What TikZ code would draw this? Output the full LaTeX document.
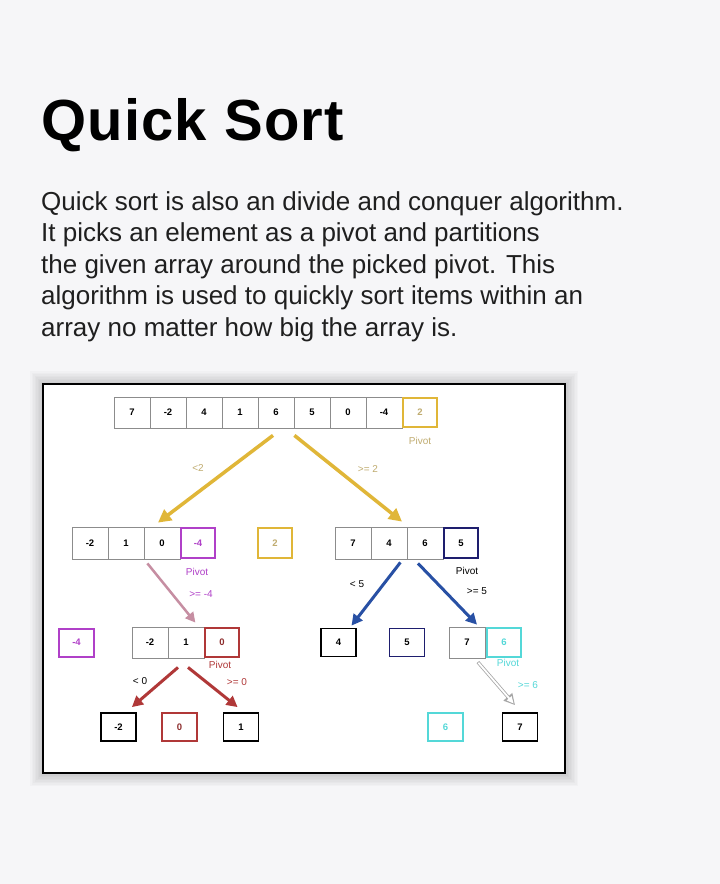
\documentclass[tikz,border=0pt]{standalone}
\usepackage{fontspec}
\setmainfont{Liberation Sans}
\usetikzlibrary{arrows.meta,positioning,calc}
\definecolor{bgcol}{RGB}{246,246,248}
\definecolor{yelcol}{RGB}{224,182,56}
\definecolor{yeltxt}{RGB}{192,172,112}
\definecolor{purcol}{RGB}{176,64,200}
\definecolor{navcol}{RGB}{30,30,110}
\definecolor{blucol}{RGB}{40,80,164}
\definecolor{redcol}{RGB}{176,56,56}
\definecolor{cyacol}{RGB}{84,216,216}
\definecolor{pnkcol}{RGB}{198,142,162}
\tikzset{
  % plain array cell
  cell/.style={rectangle, draw=black!45, line width=0.8pt, fill=white, minimum width=36pt, minimum height=31pt,
               inner sep=0pt, font=\fontsize{9.5}{10}\selectfont\bfseries},
  % pivot cell of an array
  pivcell/.style={cell, draw=#1, line width=2.2pt, minimum width=34pt, minimum height=29pt},
  pivcell/.default={black},
  % single element box
  leaf/.style={rectangle, draw=#1, line width=1.8pt, fill=white, minimum width=35pt, minimum height=28pt,
               inner sep=0pt, font=\fontsize{9.5}{10}\selectfont\bfseries},
  leaf/.default={black},
  % partition arrow
  sortarrow/.style={draw=#1, line width=3pt, -{Triangle[length=11pt,width=11pt]}},
  sortarrow/.default={black},
  % small text label
  lbl/.style={font=\fontsize{10}{12}\selectfont, text=#1, inner sep=0pt},
  lbl/.default={black},
}
\begin{document}
\begin{tikzpicture}[x=1pt, y=-1pt]
  \useasboundingbox (0,0) rectangle (720,884);
  \fill[bgcol] (0,0) rectangle (720,884);
  % heading and text
  \node[anchor=base west, inner sep=0pt, font=\fontsize{58}{60}\selectfont\bfseries\addfontfeature{LetterSpace=2}]
    (title) at (41,140) {Quick Sort};
  \foreach \txt [count=\k] in {Quick sort is also an divide and conquer algorithm.,
      It picks an element as a pivot and partitions,
      the given array around the picked pivot. This,
      algorithm is used to quickly sort items within an,
      array no matter how big the array is.}
    \node[anchor=base west, inner sep=0pt, font=\fontsize{26}{31}\selectfont, text=black!88]
      (body\k) at ({41},{210+31.5*(\k-1)}) {\txt};
  % framed panel
  \foreach \w in {26,23,...,2}
    \draw[black, opacity=0.018, line width=\w pt] (43,384) rectangle (565,773);
  \fill[white] (43,384) rectangle (565,773);
  \draw[black, line width=2pt] (43,384) rectangle (565,773);

  % level 0
  \foreach \v [count=\i] in {7,-2,4,1,6,5,0,-4}
    \node[cell] (t\i) at ({132+36*(\i-1)},412.5) {\v};
  \node[pivcell=yelcol, text=yeltxt] (tp) at (420,412.5) {2};
  \node[lbl=yeltxt] (tpl) at (420,441) {Pivot};
  \node[lbl=yeltxt] (lt2) at (198,468) {<2};
  \node[lbl=yeltxt] (ge2) at (368,469) {>= 2};

  % level 1
  \foreach \v [count=\i] in {-2,1,0}
    \node[cell, minimum height=32pt] (l\i) at ({90+36*(\i-1)},543) {\v};
  \node[pivcell=purcol, text=purcol, minimum height=30pt] (lp) at (198,543) {-4};
  \node[lbl=purcol] (lpl) at (197,572) {Pivot};
  \node[lbl=purcol] (gem4) at (201,594) {>= -4};
  \node[pivcell=yelcol, text=yeltxt, minimum height=30pt] (mid2) at (275,543) {2};
  \foreach \v [count=\i] in {7,4,6}
    \node[cell, minimum height=32pt] (r\i) at ({353+36*(\i-1)},543) {\v};
  \node[pivcell=navcol, minimum height=30pt] (rp) at (461,543) {5};
  \node[lbl] (rpl) at (467,571) {Pivot};
  \node[lbl] (lt5) at (357,584) {< 5};
  \node[lbl] (ge5) at (477,591) {>= 5};

  % level 2
  \node[leaf=purcol, text=purcol, line width=2pt] (m4) at (76.5,642.5) {-4};
  \foreach \v [count=\i] in {-2,1}
    \node[cell] (m\i) at ({150+36*(\i-1)},642.5) {\v};
  \node[pivcell=redcol, text=redcol!80!black] (mp) at (222,642.5) {0};
  \node[lbl=redcol] (mpl) at (220,665) {Pivot};
  \node[lbl] (lt0) at (140,681) {< 0};
  \node[lbl=redcol] (ge0) at (237,682) {>= 0};
  \node[leaf] (b4) at (338.5,642.5) {4};
  \node[leaf=navcol] (b5) at (407,642.5) {5};
  \node[cell] (n1) at (467,642.5) {7};
  \node[pivcell=cyacol, text=cyacol] (np) at (504,642.5) {6};
  \node[lbl=cyacol] (npl) at (508,663) {Pivot};
  \node[lbl=cyacol] (ge6) at (528,685) {>= 6};

  % level 3
  \node[leaf] (c1) at (118.5,727) {-2};
  \node[leaf=redcol, text=redcol!80!black] (c2) at (179.5,727) {0};
  \node[leaf] (c3) at (241,727) {1};
  \node[leaf=cyacol, text=cyacol] (c4) at (445.5,727) {6};
  \node[leaf] (c5) at (520,727) {7};

  % partition arrows
  \draw[sortarrow=yelcol, line width=3.5pt, -{Triangle[length=13pt,width=13pt]}]
    ($(t5.south)+(-3,7)$) -- ($(l3.north)+(-4,-4)$);
  \draw[sortarrow=yelcol, line width=3.5pt, -{Triangle[length=13pt,width=13pt]}]
    ($(t5.south east)+(0,7)$) -- ($(r2.north)+(13,-5)$);
  \draw[sortarrow=pnkcol, line width=2.5pt, -{Triangle[length=10pt,width=10pt]}]
    ($(l2.south east)+(3,4)$) -- ($(m2.north east)+(-9,-4)$);
  \draw[sortarrow=blucol] ($(r2.south east)+(-7,3)$) -- ($(b4.north)+(13,-2)$);
  \draw[sortarrow=blucol] ($(r3.south)+(-7,4)$) -- ($(n1.north)+(10,-2)$);
  \draw[sortarrow=redcol] ($(m2.south)+(-8,9)$) -- ($(c1.north east)+(-5,-5)$);
  \draw[sortarrow=redcol] ($(m2.south)+(2,9)$) -- ($(c3.north west)+(15,-5)$);
  \draw[sortarrow=black!35, line width=3.4pt, -{Triangle[length=11pt,width=11pt]}]
    ($(np.south west)+(-8,4)$) -- ($(c5.north)+(-5,-7)$);
  \draw[white, line width=1.8pt, -{Triangle[length=7pt,width=6pt]}, shorten >=2pt, shorten <=0.8pt]
    ($(np.south west)+(-8,4)$) -- ($(c5.north)+(-5,-7)$);
\end{tikzpicture}
\end{document}
